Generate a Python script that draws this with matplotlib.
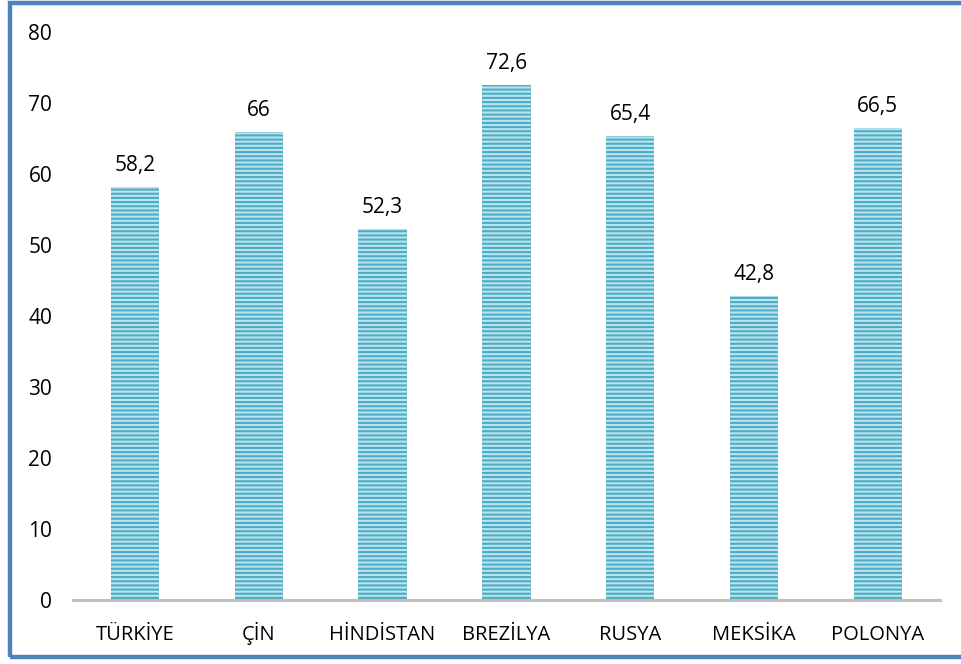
import matplotlib.pyplot as plt
from matplotlib.patches import Rectangle

countries = ["TÜRKİYE", "ÇİN", "HİNDİSTAN", "BREZİLYA", "RUSYA", "MEKSİKA", "POLONYA"]
values = [58.2, 66, 52.3, 72.6, 65.4, 42.8, 66.5]
value_labels = ["58,2", "66", "52,3", "72,6", "65,4", "42,8", "66,5"]
y_ticks = [0, 10, 20, 30, 40, 50, 60, 70, 80]

plt.rcParams["font.family"] = ["Open Sans", "DejaVu Sans"]
plt.rcParams["hatch.linewidth"] = 1.5
plt.rcParams["hatch.color"] = "#4BACC6"

fig = plt.figure(figsize=(9.62, 6.64), dpi=100)
ax = fig.add_axes([0.0759, 0.0964, 0.901, 0.855])

x = range(len(countries))
bars = ax.bar(x, values, width=0.39, color="#BCE3EC", edgecolor="#4BACC6",
              linewidth=0, hatch="----", zorder=2)

for xi, v, lab in zip(x, values, value_labels):
    ax.annotate(lab, (xi, v), xytext=(0, 8), textcoords="offset points",
                ha="center", va="bottom", fontsize=15, color="#000000")

ax.set_xlim(-0.5, len(countries) - 0.5)
ax.set_ylim(0, 80)
ax.set_yticks(y_ticks)
ax.set_xticks(list(x))
ax.set_xticklabels(countries)
ax.tick_params(axis="y", length=0, pad=15, labelsize=15)
ax.tick_params(axis="x", length=0, pad=29, labelsize=14.5)
for lbl in ax.get_yticklabels():
    lbl.set_horizontalalignment("right")
for lbl in ax.get_xticklabels():
    lbl.set_verticalalignment("baseline")

for s in ["top", "right", "left"]:
    ax.spines[s].set_visible(False)
ax.spines["bottom"].set_color("#BFBFBF")
ax.spines["bottom"].set_linewidth(2.2)

# outer blue frame (right edge runs off the image)
fig.patches.append(Rectangle((10 / 962, 7 / 664), 1.2, 654 / 664,
                             transform=fig.transFigure, fill=False,
                             edgecolor="#4F81BD", linewidth=3.2))

fig.savefig("out.png", dpi=100)
